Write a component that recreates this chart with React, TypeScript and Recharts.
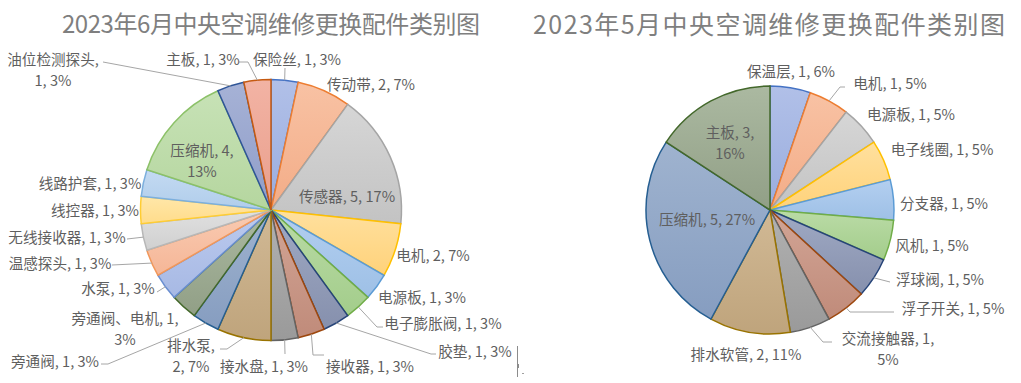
import { Cell, Pie, PieChart } from "recharts";

const JUNE_PARTS = [
  "保险丝", "传动带", "传感器", "电机", "电源板", "电子膨胀阀", "胶垫", "接收器", "接水盘", "排水泵",
  "旁通阀", "旁通阀、电机", "水泵", "温感探头", "无线接收器", "线控器", "线路护套", "压缩机", "油位检测探头", "主板",
];
const JUNE_COUNTS = [1, 2, 5, 2, 1, 1, 1, 1, 1, 2, 1, 1, 1, 1, 1, 1, 1, 4, 1, 1];
const JUNE_PCT = [3, 7, 17, 7, 3, 3, 3, 3, 3, 7, 3, 3, 3, 3, 3, 3, 3, 13, 3, 3];

const MAY_PARTS = ["保温层", "电机", "电源板", "电子线圈", "分支器", "风机", "浮球阀", "浮子开关", "交流接触器", "排水软管", "压缩机", "主板"];
const MAY_COUNTS = [1, 1, 1, 1, 1, 1, 1, 1, 1, 2, 5, 3];
const MAY_PCT = [6, 5, 5, 5, 5, 5, 5, 5, 5, 11, 27, 16];

const JUNE_TITLE = "2023年6月中央空调维修更换配件类别图";
const MAY_TITLE = "2023年5月中央空调维修更换配件类别图";

// stroke, gradient top, gradient bottom
const PALETTE = [
  ["#4472C4", "#b1c0e8", "#9aadde"],
  ["#ED7D31", "#f8c2a4", "#f3ac87"],
  ["#A5A5A5", "#d6d6d6", "#c3c3c3"],
  ["#FFC000", "#ffe09e", "#ffd27a"],
  ["#5B9BD5", "#b3cff0", "#9ec0e6"],
  ["#70AD47", "#badba6", "#a3cd8b"],
  ["#264478", "#a0aac4", "#8690ad"],
  ["#9E480E", "#d2a596", "#c08b7a"],
  ["#636363", "#b1b1b1", "#9a9a9a"],
  ["#997300", "#d1b995", "#bfa47c"],
  ["#255E91", "#9fb3cf", "#869dc0"],
  ["#43682B", "#abb9a1", "#919f86"],
  ["#698ED0", "#bccaee", "#a7b9e4"],
  ["#F1975A", "#f9cbb2", "#f5b697"],
  ["#B7B7B7", "#e0e0e0", "#d0d0d0"],
  ["#FFCD33", "#ffe7a9", "#ffdc8b"],
  ["#7CAFDD", "#c4daf2", "#b0cdeb"],
  ["#8CC168", "#c7e2b6", "#b5d69f"],
  ["#2F5597", "#a6b2d6", "#8f9dc8"],
  ["#C55A11", "#f2b3a4", "#e99f8c"],
];

type Spot = { at: [number, number]; wrap?: number; leader?: [number, number][] };

// label placement relative to the pie centre (Excel best-fit layout)
const JUNE_SPOTS: Spot[] = [
  { at: [26, -152], leader: [[14, -142]] },
  { at: [100, -127] },
  { at: [76, -15] },
  { at: [162, 44] },
  { at: [151, 86] },
  { at: [172, 112], leader: [[106, 117], [112, 117]] },
  { at: [204, 140], leader: [[160, 144], [165, 144]] },
  { at: [99, 155], leader: [[42, 145], [53, 145]] },
  { at: [-7, 155], leader: [[14, 144]] },
  { at: [-80, 145], wrap: 1, leader: [[-44, 139], [-51, 139]] },
  { at: [-216, 150], leader: [[-163, 154], [-170, 154]] },
  { at: [-146, 118], wrap: 2 },
  { at: [-153, 77], leader: [[-114, 82]] },
  { at: [-211, 52], leader: [[-159, 55]] },
  { at: [-204, 26], leader: [[-144, 29]] },
  { at: [-176, -1] },
  { at: [-181, -28] },
  { at: [-69, -50], wrap: 2 },
  { at: [-218, -141], wrap: 1, leader: [[-168, -148]] },
  { at: [-68, -152], leader: [[-23, -148], [-32, -148]] },
];

const MAY_SPOTS: Spot[] = [
  { at: [21, -140] },
  { at: [120, -128], leader: [[70, -123], [75, -123]] },
  { at: [141, -97] },
  { at: [172, -62] },
  { at: [174, -8] },
  { at: [162, 34] },
  { at: [170, 68], leader: [[120, 72]] },
  { at: [183, 97], leader: [[80, 102], [124, 102]] },
  { at: [118, 138], wrap: 2, leader: [[53, 132], [62, 132]] },
  { at: [-24, 143] },
  { at: [-63, 8] },
  { at: [-40, -68], wrap: 2 },
];

const RAD = Math.PI / 180;

const makeLabel =
  (parts: string[], counts: number[], pcts: number[], spots: Spot[]) =>
  (props: any) => {
    const { cx, cy, midAngle, outerRadius, index } = props;
    const spot = spots[index];
    const pieces = [`${parts[index]},`, `${counts[index]},`, `${pcts[index]}%`];
    const lines = spot.wrap
      ? [pieces.slice(0, spot.wrap).join(" "), pieces.slice(spot.wrap).join(" ")]
      : [pieces.join(" ")];
    const x = cx + spot.at[0];
    const y = cy + spot.at[1];
    const ex = cx + outerRadius * Math.cos(-midAngle * RAD);
    const ey = cy + outerRadius * Math.sin(-midAngle * RAD);
    const points = spot.leader
      ? [[ex, ey], ...spot.leader.map(([dx, dy]) => [cx + dx, cy + dy])].map((p) => p.join(",")).join(" ")
      : null;

    return (
      <g key={`label-${index}`}>
        {points && <polyline fill="none" points={points} stroke="#a6a6a6" strokeWidth={1} />}
        {lines.map((line, i) => (
          <text
            dominantBaseline="central"
            fill="#5f5f5f"
            fontFamily="'Noto Sans CJK SC', sans-serif"
            fontSize={14.6}
            key={i}
            textAnchor="middle"
            x={x}
            y={y + (i - (lines.length - 1) / 2) * 20.5}
          >
            {line}
          </text>
        ))}
      </g>
    );
  };

const juneData = JUNE_PARTS.map((name, i) => ({ name, value: JUNE_COUNTS[i] }));
const mayData = MAY_PARTS.map((name, i) => ({ name, value: MAY_COUNTS[i] }));

export default function App() {
  return (
    <div style={{ position: "absolute", left: 0, top: 0, width: 1021, height: 383, background: "#fff" }}>
      <style>{`body{margin:0}`}</style>
      <svg height={0} style={{ position: "absolute" }} width={0}>
        <defs>
          {PALETTE.map(([, top, bottom], i) => (
            <linearGradient id={`slice-${i}`} key={i} x1="0" x2="0" y1="0" y2="1">
              <stop offset="0%" stopColor={top} />
              <stop offset="100%" stopColor={bottom} />
            </linearGradient>
          ))}
        </defs>
      </svg>
      <PieChart height={383} margin={{ top: 0, right: 0, bottom: 0, left: 0 }} width={1021}>
        <Pie
          cx={271}
          cy={210}
          data={juneData}
          dataKey="value"
          endAngle={-270}
          isAnimationActive={false}
          label={makeLabel(JUNE_PARTS, JUNE_COUNTS, JUNE_PCT, JUNE_SPOTS)}
          labelLine={false}
          outerRadius={130.5}
          startAngle={90}
          strokeWidth={1.5}
        >
          {juneData.map((_, i) => (
            <Cell fill={`url(#slice-${i})`} key={i} stroke={PALETTE[i][0]} />
          ))}
        </Pie>
        <Pie
          cx={770}
          cy={210}
          data={mayData}
          dataKey="value"
          endAngle={-270}
          isAnimationActive={false}
          label={makeLabel(MAY_PARTS, MAY_COUNTS, MAY_PCT, MAY_SPOTS)}
          labelLine={false}
          outerRadius={124}
          startAngle={90}
          strokeWidth={1.5}
        >
          {mayData.map((_, i) => (
            <Cell fill={`url(#slice-${i})`} key={i} stroke={PALETTE[i][0]} />
          ))}
        </Pie>
      </PieChart>
      <svg height={383} style={{ position: "absolute", left: 0, top: 0, pointerEvents: "none" }} width={1021}>
        <text
          dominantBaseline="central"
          fill="#7f7f7f"
          fontFamily="'Noto Sans CJK SC', sans-serif"
          fontSize={24}
          lengthAdjust="spacing"
          textAnchor="middle"
          textLength={418}
          x={271}
          y={22.5}
        >
          {JUNE_TITLE}
        </text>
        <text
          dominantBaseline="central"
          fill="#7f7f7f"
          fontFamily="'Noto Sans CJK SC', sans-serif"
          fontSize={25}
          lengthAdjust="spacing"
          textAnchor="middle"
          textLength={472}
          x={769}
          y={23}
        >
          {MAY_TITLE}
        </text>
        <line stroke="#8c8c8c" strokeWidth={1} x1={517.5} x2={517.5} y1={346} y2={377} />
        <rect fill="#8c8c8c" height={4} width={2} x={517} y={364} />
        <rect fill="#a0a0a0" height={1} width={2} x={522} y={373} />
      </svg>
    </div>
  );
}
